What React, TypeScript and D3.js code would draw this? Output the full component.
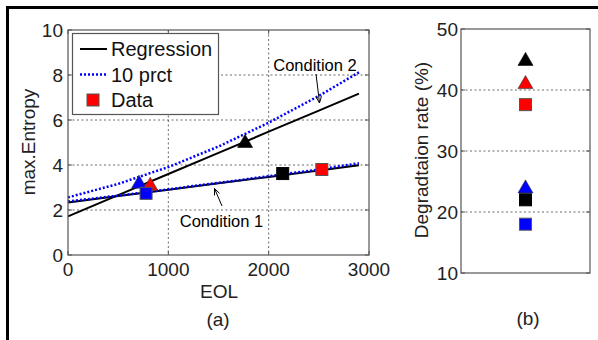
import React from "react";
import * as d3 from "d3";

// Panel (a): max. entropy versus end of life
const eolTicks = [0, 1000, 2000, 3000];
const entropyTicks = [0, 2, 4, 6, 8, 10];
const lineEol = [0, 500, 1000, 1500, 2000, 2500, 2900];
const cond1Regression = [2.33, 2.62, 2.9, 3.19, 3.47, 3.76, 3.99];
const cond1Prct = [2.38, 2.64, 2.92, 3.21, 3.5, 3.8, 4.08];
const cond2Regression = [1.72, 2.66, 3.6, 4.54, 5.48, 6.42, 7.17];
const cond2Prct = [2.56, 3.16, 3.91, 4.82, 5.88, 7.07, 8.12];

const pointEol = [708, 820, 778, 1765, 2140, 2530];
const pointEntropy = [3.26, 3.17, 2.74, 5.07, 3.62, 3.8];
const pointShape = ["tri", "tri", "sq", "tri", "sq", "sq"];
const pointColor = ["#0000ff", "#ff0000", "#0000ff", "#000000", "#000000", "#ff0000"];

// Panel (b): degradation rate
const rateTicks = [10, 20, 30, 40, 50];
const rateValues = [45.1, 41.3, 37.6, 24.2, 22.0, 18.0];
const rateShape = ["tri", "tri", "sq", "tri", "sq", "sq"];
const rateColor = ["#000000", "#ff0000", "#ff0000", "#0000ff", "#000000", "#0000ff"];

const legendItems = ["Regression", "10 prct", "Data"];

const FONT = "'Liberation Sans', Arial, sans-serif";

function Marker({ x, y, shape, color }: { x: number; y: number; shape: string; color: string }) {
  if (shape === "tri") {
    const w = 15, h = 13;
    const p = `M${x},${y - h / 2}L${x + w / 2},${y + h / 2}L${x - w / 2},${y + h / 2}Z`;
    return <path d={p} fill={color} stroke={color === "#000000" ? "#000" : "#333"} strokeWidth={0.6} />;
  }
  const s = 12;
  return <rect x={x - s / 2} y={y - s / 2} width={s} height={s} fill={color} stroke={color === "#000000" ? "#000" : "#555"} strokeWidth={1} />;
}

function Arrow({ x1, y1, x2, y2 }: { x1: number; y1: number; x2: number; y2: number }) {
  const a = Math.atan2(y2 - y1, x2 - x1);
  const L = 7, s = 0.4;
  const h1 = [x2 - L * Math.cos(a - s), y2 - L * Math.sin(a - s)];
  const h2 = [x2 - L * Math.cos(a + s), y2 - L * Math.sin(a + s)];
  return (
    <g stroke="#000" strokeWidth={1} fill="none">
      <line x1={x1} y1={y1} x2={x2} y2={y2} />
      <path d={`M${h1[0]},${h1[1]}L${x2},${y2}L${h2[0]},${h2[1]}`} />
    </g>
  );
}

export default function App() {
  // panel (a) geometry
  const ax = { l: 68, r: 369, t: 30, b: 255 };
  const x = d3.scaleLinear().domain([0, 3000]).range([ax.l, ax.r]);
  const y = d3.scaleLinear().domain([0, 10]).range([ax.b, ax.t]);
  const line = d3
    .line<number>()
    .x((_, i) => x(lineEol[i]))
    .y((v) => y(v));

  // panel (b) geometry
  const bx = { l: 461, r: 590, t: 29, b: 273 };
  const xb = d3.scaleLinear().domain([0, 2]).range([bx.l, bx.r]);
  const yb = d3.scaleLinear().domain([10, 50]).range([bx.b, bx.t]);

  const tickLen = 4;
  const grid = { stroke: "#444", strokeWidth: 0.8, strokeDasharray: "2,2.5" };

  return (
    <svg
      width={598}
      height={340}
      style={{ position: "absolute", left: 0, top: 0, background: "#fff" }}
      fontFamily={FONT}
    >
      <rect x={0} y={0} width={598} height={340} fill="#fff" />
      {/* outer frame */}
      <rect x={7.5} y={7.5} width={640} height={400} fill="none" stroke="#000" strokeWidth={3} />

      {/* ===== panel (a) ===== */}
      {eolTicks.slice(1, -1).map((t) => (
        <line key={"gx" + t} x1={x(t)} x2={x(t)} y1={ax.t} y2={ax.b} {...grid} />
      ))}
      {entropyTicks.slice(1, -1).map((t) => (
        <line key={"gy" + t} x1={ax.l} x2={ax.r} y1={y(t)} y2={y(t)} {...grid} />
      ))}

      <path d={line(cond2Regression) || ""} fill="none" stroke="#000" strokeWidth={2} />
      <path d={line(cond1Regression) || ""} fill="none" stroke="#000" strokeWidth={2} />
      <path d={line(cond2Prct) || ""} fill="none" stroke="#0000ff" strokeWidth={2.5} strokeDasharray="2,2" />
      <path d={line(cond1Prct) || ""} fill="none" stroke="#0000ff" strokeWidth={2.5} strokeDasharray="2,2" />

      {pointEol.map((e, i) => (
        <Marker key={"pa" + i} x={x(e)} y={y(pointEntropy[i])} shape={pointShape[i]} color={pointColor[i]} />
      ))}

      <rect x={ax.l} y={ax.t} width={ax.r - ax.l} height={ax.b - ax.t} fill="none" stroke="#555" strokeWidth={1.2} />
      {eolTicks.map((t) => (
        <g key={"tx" + t}>
          <line x1={x(t)} x2={x(t)} y1={ax.b} y2={ax.b - tickLen} stroke="#555" />
          <line x1={x(t)} x2={x(t)} y1={ax.t} y2={ax.t + tickLen} stroke="#555" />
          <text x={x(t)} y={276} textAnchor="middle" fontSize={19} fill="#222">
            {t}
          </text>
        </g>
      ))}
      {entropyTicks.map((t) => (
        <g key={"ty" + t}>
          <line x1={ax.l} x2={ax.l + tickLen} y1={y(t)} y2={y(t)} stroke="#555" />
          <line x1={ax.r} x2={ax.r - tickLen} y1={y(t)} y2={y(t)} stroke="#555" />
          <text x={63} y={y(t)} dy="0.36em" textAnchor="end" fontSize={19} fill="#222">
            {t}
          </text>
        </g>
      ))}
      <text x={219} y={298} textAnchor="middle" fontSize={19} fill="#222">
        EOL
      </text>
      <text transform="translate(35,142) rotate(-90)" textAnchor="middle" fontSize={19} fill="#222">
        max.Entropy
      </text>
      <text x={218} y={326} textAnchor="middle" fontSize={19} fill="#222">
        (a)
      </text>

      {/* annotations */}
      <text x={315} y={71} textAnchor="middle" fontSize={16.5} fill="#000">
        Condition 2
      </text>
      <Arrow x1={316} y1={74} x2={319.5} y2={103} />
      <text x={221.5} y={226.5} textAnchor="middle" fontSize={16.5} fill="#000">
        Condition 1
      </text>
      <Arrow x1={222} y1={206} x2={214.5} y2={188.5} />

      {/* legend */}
      <rect x={72.5} y={33.5} width={146} height={81} fill="#fff" stroke="#555" strokeWidth={1.2} />
      {legendItems.map((name, i) => {
        const cy = 49 + i * 25.5;
        return (
          <g key={name}>
            {i === 0 && <line x1={80} x2={107} y1={cy} y2={cy} stroke="#000" strokeWidth={2} />}
            {i === 1 && (
              <line x1={80} x2={107} y1={cy} y2={cy} stroke="#0000ff" strokeWidth={2.5} strokeDasharray="2,2" />
            )}
            {i === 2 && <Marker x={93} y={cy} shape="sq" color="#ff0000" />}
            <text x={111} y={cy} dy="0.36em" fontSize={20} fill="#111">
              {name}
            </text>
          </g>
        );
      })}

      {/* ===== panel (b) ===== */}
      {rateTicks.slice(1, -1).map((t) => (
        <line key={"gb" + t} x1={bx.l} x2={bx.r} y1={yb(t)} y2={yb(t)} {...grid} />
      ))}
      {rateValues.map((v, i) => (
        <Marker key={"pb" + i} x={xb(1)} y={yb(v)} shape={rateShape[i]} color={rateColor[i]} />
      ))}
      <rect x={bx.l} y={bx.t} width={bx.r - bx.l} height={bx.b - bx.t} fill="none" stroke="#555" strokeWidth={1.2} />
      {rateTicks.map((t) => (
        <g key={"tb" + t}>
          <line x1={bx.l} x2={bx.l + tickLen} y1={yb(t)} y2={yb(t)} stroke="#555" />
          <line x1={bx.r} x2={bx.r - tickLen} y1={yb(t)} y2={yb(t)} stroke="#555" />
          <text x={458} y={yb(t)} dy="0.36em" textAnchor="end" fontSize={19} fill="#222">
            {t}
          </text>
        </g>
      ))}
      <text transform="translate(428,150) rotate(-90)" textAnchor="middle" fontSize={19} fill="#222">
        Degradtaion rate (%)
      </text>
      <text x={528} y={325} textAnchor="middle" fontSize={19} fill="#222">
        (b)
      </text>
    </svg>
  );
}
